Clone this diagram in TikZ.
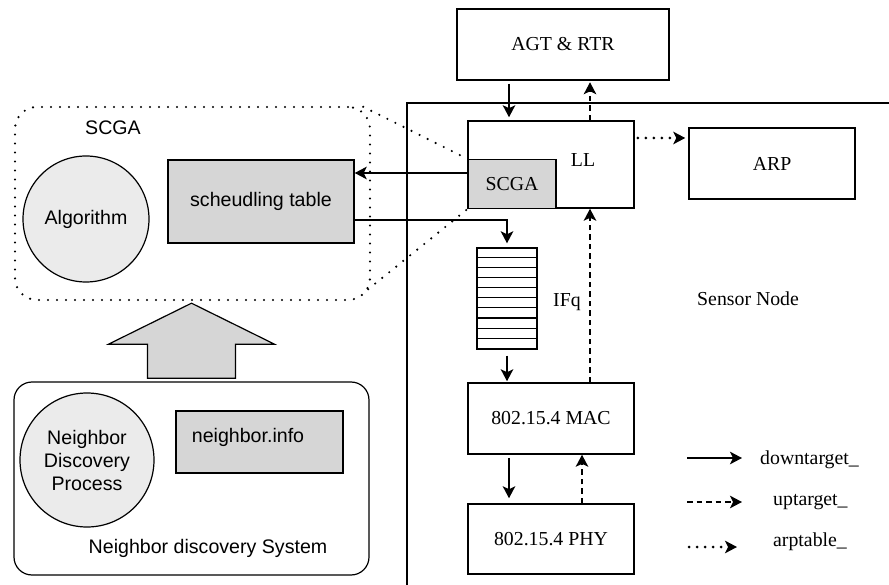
\documentclass[tikz,border=0pt]{standalone}
\usepackage{fontspec}
\setmainfont{Liberation Serif}
\setsansfont{Liberation Sans}
\usetikzlibrary{arrows.meta}
\definecolor{boxgray}{HTML}{D6D6D6}
\definecolor{discgray}{HTML}{EBEBEB}
\begin{document}
\begin{tikzpicture}[x=1pt,y=-1pt,
  rmtext/.style={inner sep=0pt, font=\rmfamily\fontsize{19.8}{22}\selectfont},
  sftext/.style={inner sep=0pt, font=\sffamily\fontsize{19.6}{23}\selectfont},
  box/.style={draw, line width=1.5pt, minimum width=166pt, minimum height=71pt,
    inner sep=0pt, font=\rmfamily\fontsize{19.8}{22}\selectfont},
  graybox/.style={draw, line width=1.4pt, fill=boxgray, inner sep=0pt},
  disc/.style={circle, draw, line width=1.2pt, fill=discgray, inner sep=0pt,
    align=center, font=\sffamily\fontsize{19.6}{23}\selectfont},
  solidarrow/.style={line width=2.5pt, -{Stealth[length=12pt,width=12.5pt,inset=3pt]}},
  dasharrow/.style={line width=2.5pt, dash pattern=on 5.5pt off 4pt,
    -{Stealth[length=12pt,width=12.5pt,inset=3pt]}},
  dotarrow/.style={line width=3pt, line cap=round, dash pattern=on 0pt off 8pt,
    -{Stealth[length=12pt,width=12.5pt,inset=3pt]}},
  dotline/.style={line width=2.4pt, line cap=round, dash pattern=on 0pt off 9pt},
  frame/.style={line width=1.5pt}]
\useasboundingbox (0,0) rectangle (889,585);

% sensor node frame
\draw[frame] (890,103) -- (407,103) -- (407,586);
\node[rmtext, anchor=west] (sensorlabel) at (697,299) {Sensor Node};

% protocol stack of the sensor node
\node[box, minimum width=212pt] (agt) at (563,44.5) {AGT \& RTR};
\node[box, minimum height=87pt] (ll) at (551,164.5) {};
\node[rmtext] (lltext) at (583,160) {LL};
\node[graybox, minimum width=88pt, minimum height=49pt,
  font=\rmfamily\fontsize{19.8}{22}\selectfont] (scgain) at (512,184) {SCGA};
\node[box] (arp) at (772,163.5) {ARP};
\node[box] (mac) at (551,418.5) {802.15.4 MAC};
\node[box, minimum height=70pt] (phy) at (551,539) {802.15.4 PHY};

% interface queue
\node[draw, line width=1.4pt, minimum width=60pt, minimum height=101pt,
  inner sep=0pt] (ifq) at (507,298.5) {};
\foreach \i in {1,...,9}
  \draw[line width=1.1pt] (ifq.north west) ++(0,10.1*\i) -- ++(60,0);
\node[rmtext, anchor=west] (ifqtext) at (553,302) {IFq};

% SCGA module
\node[draw, dotline, rounded corners=22pt, minimum width=355pt,
  minimum height=193pt] (scgabox) at (192.5,203.5) {};
\node[sftext] (scgalabel) at (113,128) {SCGA};
\node[disc, minimum size=126pt] (algo) at (86,219) {Algorithm};
\node[graybox, minimum width=186pt, minimum height=83pt,
  font=\sffamily\fontsize{19.6}{23}\selectfont] (sched) at (261,201.5) {scheudling table};

% neighbor discovery system
\node[draw, line width=1.2pt, rounded corners=18pt, minimum width=355pt,
  minimum height=193pt] (nbrsys) at (191.5,478.5) {};
\node[sftext] (nbrsyslabel) at (208,548) {Neighbor discovery System};
\node[disc, minimum size=134pt] (ndp) at (87,460) {Neighbor\\Discovery\\Process};
\node[graybox, minimum width=167pt, minimum height=62pt] (ninfo) at (259.5,442) {};
\node[sftext] (ninfotext) at (248,437) {neighbor.info};

% hollow arrow from the discovery system up to SCGA
\draw[line width=1.2pt, fill=boxgray]
  ([yshift=-2pt]scgabox.south -| nbrsys.north) -- ++(83,41) -- ++(-39,0)
  -- ++(0,34) -- ++(-88,0) -- ++(0,-34) -- ++(-39,0) -- cycle;

% zoom lines from the SCGA module to its place in LL
\draw[dotline] ([xshift=-8pt,yshift=-1pt]scgabox.north east) -- (scgain.north west);
\draw[dotline] ([xshift=-3pt,yshift=12pt]scgabox.south east) -- (scgain.south west);

% connectors
\coordinate (xa) at (509,0);
\coordinate (xb) at (590,0);
\coordinate (xf) at (582,0);
\coordinate (yc) at (0,138);
\coordinate (yd) at (0,173);
\coordinate (ye) at (0,220);
\draw[solidarrow, shorten <=3pt, shorten >=3pt] (agt.south -| xa) -- (ll.north -| xa);
\draw[dasharrow, shorten >=1.5pt] (ll.north -| xb) -- (agt.south -| xb);
\draw[dotarrow, shorten <=3pt, shorten >=3pt] (ll.east |- yc) -- (arp.west |- yc);
\draw[dasharrow] (mac.north -| xb) -- (ll.south -| xb);
\draw[solidarrow] (scgain.west |- yd) -- (sched.east |- yd);
\draw[solidarrow, shorten >=4pt] (sched.east |- ye) -| (ifq.north);
\draw[solidarrow, shorten <=6pt, shorten >=1pt] (ifq.south) -- (ifq.south |- mac.north);
\draw[solidarrow, shorten <=3pt, shorten >=5pt] (mac.south -| xa) -- (phy.north -| xa);
\draw[dasharrow] (phy.north -| xf) -- (mac.south -| xf);

% legend
\coordinate (la1) at (687,458); \coordinate (lb1) at (742,458);
\coordinate (la2) at (687,502); \coordinate (lb2) at (742,502);
\coordinate (la3) at (689,547); \coordinate (lb3) at (737,547);
\draw[solidarrow] (la1) -- (lb1);
\draw[dasharrow] (la2) -- (lb2);
\draw[dotarrow] (la3) -- (lb3);
\node[rmtext, anchor=west] (lt1) at (760,460) {downtarget\_};
\node[rmtext, anchor=west] (lt2) at (773,502) {uptarget\_};
\node[rmtext, anchor=west] (lt3) at (773,542) {arptable\_};
\end{tikzpicture}
\end{document}
